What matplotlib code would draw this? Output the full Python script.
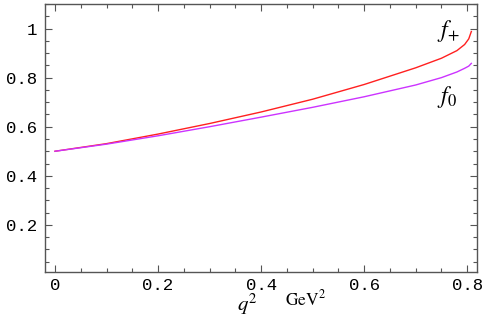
import matplotlib
matplotlib.use("Agg")
import matplotlib.pyplot as plt
from matplotlib.ticker import MultipleLocator

q2 = [0.0, 0.1, 0.2, 0.3, 0.4, 0.5, 0.6, 0.7, 0.75, 0.78, 0.795, 0.803, 0.808]
f_plus = [0.500, 0.531, 0.570, 0.613, 0.660, 0.712, 0.772, 0.840, 0.879, 0.910, 0.935, 0.958, 0.988]
f_zero = [0.500, 0.529, 0.563, 0.600, 0.639, 0.679, 0.722, 0.770, 0.800, 0.823, 0.838, 0.847, 0.858]
xticks = [0, 0.2, 0.4, 0.6, 0.8]
xticklabels = ["0", "0.2", "0.4", "0.6", "0.8"]
yticks = [0.2, 0.4, 0.6, 0.8, 1.0]
yticklabels = ["0.2", "0.4", "0.6", "0.8", "1"]

plt.rcParams['mathtext.fontset'] = 'stix'
fig = plt.figure(figsize=(4.84, 3.18), dpi=100)
ax = fig.add_axes([45/484, 46/318, 432/484, 268/318])

ax.plot(q2, f_plus, color='#ff2020', lw=1.0)
ax.plot(q2, f_zero, color='#cc33ff', lw=1.0)

ax.set_xlim(-0.0194, 0.819)
ax.set_ylim(0.008, 1.10)

mono = 'Liberation Mono'
ax.set_xticks(xticks)
ax.set_xticklabels(xticklabels, fontfamily=mono, fontsize=12.5)
ax.set_yticks(yticks)
ax.set_yticklabels(yticklabels, fontfamily=mono, fontsize=12.5)
ax.xaxis.set_minor_locator(MultipleLocator(0.05))
ax.yaxis.set_minor_locator(MultipleLocator(0.05))
ax.tick_params(which='both', direction='in', top=True, right=True, color='#555555', width=0.8)
ax.tick_params(which='major', length=5)
ax.tick_params(axis='x', which='major', pad=4)
ax.tick_params(axis='y', which='major', pad=6)
ax.tick_params(which='minor', length=3)
for s in ax.spines.values():
    s.set_color('#555555')
    s.set_linewidth(1.0)

ax.text(0.742, 0.99, r'$f_{+}$', fontsize=17, ha='left', va='center')
ax.text(0.742, 0.72, r'$f_{0}$', fontsize=17, ha='left', va='center')

fig.text(247/484, 1 - 304/318, r'$q^2$', fontsize=15, ha='center', va='center')
fig.text(305/484, 1 - 299/318, r'$\mathrm{GeV}^2$', fontsize=12.5, ha='center', va='center')

fig.savefig('out.png', dpi=100)
